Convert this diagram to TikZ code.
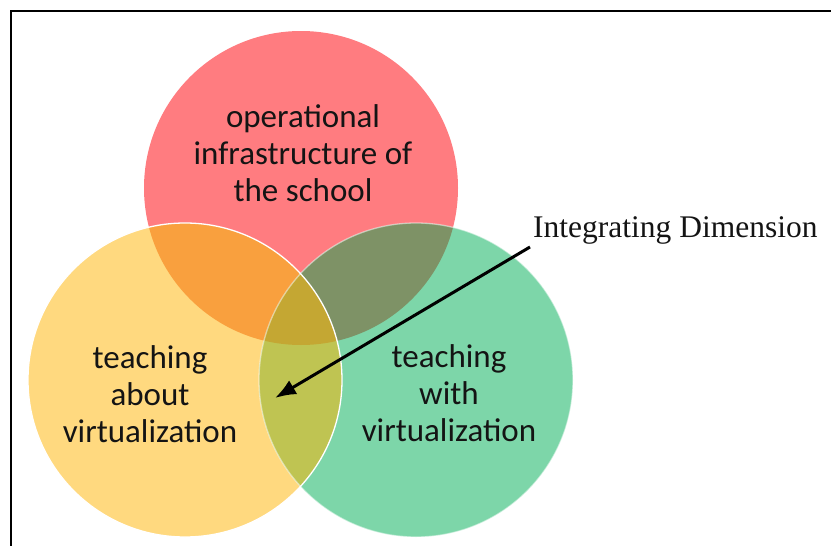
\documentclass[tikz,border=0pt]{standalone}
\usepackage{fontspec}
\setmainfont{Carlito}
\newfontfamily\labelfont{Liberation Serif}
\usepackage{tikz}
\usetikzlibrary{arrows.meta}

\definecolor{schoolred}{RGB}{255,124,128}
\definecolor{aboutyellow}{RGB}{255,217,127}
\definecolor{withgreen}{RGB}{125,214,169}
\definecolor{redyellow}{RGB}{249,160,62}
\definecolor{redgreen}{RGB}{126,146,102}
\definecolor{yellowgreen}{RGB}{191,196,82}
\definecolor{allthree}{RGB}{196,167,51}

\begin{document}
\begin{tikzpicture}[x=1pt,y=-1pt]
  \tikzstyle{every node}=[text=black!92]
  \tikzstyle{area}=[align=center,font=\fontsize{33}{37}\selectfont]
  \tikzstyle{ring}=[white,line width=1.3pt]
  \useasboundingbox (0,0) rectangle (831,546);
  \draw[line width=1.4pt] (11,546) -- (11,11) -- (831,11);

  \coordinate (r) at (301,188);
  \coordinate (y) at (185,380);
  \coordinate (g) at (416,380);

  \fill[schoolred] (r) circle[radius=157pt];
  \fill[aboutyellow] (y) circle[radius=157pt];
  \fill[withgreen] (g) circle[radius=157pt];
  \begin{scope}
    \clip (r) circle[radius=157pt];
    \fill[redyellow] (y) circle[radius=157pt];
    \fill[redgreen] (g) circle[radius=157pt];
  \end{scope}
  \begin{scope}
    \clip (y) circle[radius=157pt];
    \fill[yellowgreen] (g) circle[radius=157pt];
    \clip (g) circle[radius=157pt];
    \fill[allthree] (r) circle[radius=157pt];
  \end{scope}
  \draw[ring,opacity=.5] (g) circle[radius=157pt];
  \draw[ring] (y) circle[radius=157pt];

  \node[area] (school) at (303,153) {operational\\infrastructure of\\the school};
  \node[area] (about) at (150,394) {teaching\\about\\virtualization};
  \node[area] (with) at (449,393) {teaching\\with\\virtualization};

  \node[font=\labelfont\fontsize{31.5}{31.5}\selectfont,anchor=south west,inner sep=3pt]
    (dim) at (530,247) {Integrating Dimension};
  \coordinate (tip) at (275,398);
  \draw[-{Latex[length=21pt,width=16pt]},line width=3pt] (dim.south west) -- (tip);
\end{tikzpicture}
\end{document}
